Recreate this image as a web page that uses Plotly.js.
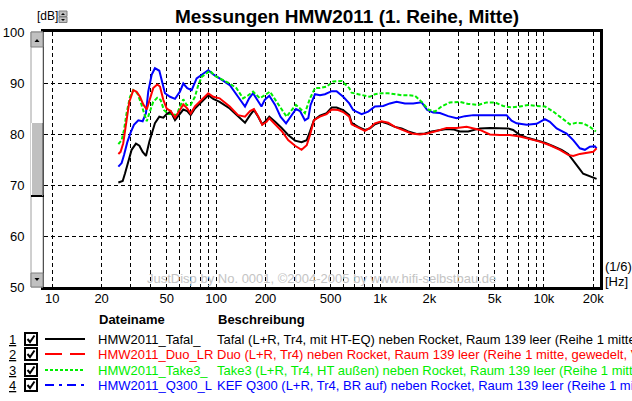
<!DOCTYPE html>
<html><head><meta charset="utf-8">
<script src="https://cdn.plot.ly/plotly-3.0.1.min.js"></script>
<style>html,body{margin:0;padding:0;background:#fff;}#plot{width:632px;height:401px;}</style>
</head><body><div id="plot"></div>
<script>
// ---- data (Hz, dB) ----
const tafalF = [25.3,26.9,27.8,29.1,30.5,32.4,34.0,35.6,37.3,39.1,40.4,42.3,45.0,47.6,49.9,52.8,56.1,60.1,63.0,66.6,69.9,74.2,79.6,85.4,89.5,96.0,
 105,121,136,150,161,170,178,191,203,211,229,251,275,303,332,357,374,395,430,472,507,543,596,649,
 671,736,809,868,931,1023,1122,1233,1354,1486,1672,1879,2065,2320,2549,2797,3073,3452,
 4069,4684,5388,6055,6496,7140,8023,9027,10140,11400,12820,14070,15100,16190,17370,18640,19820,20970];
const tafalDb = [70.5,70.8,72.3,74.6,76.9,78.1,77.7,76.5,75.7,78.5,80.1,82.1,83.4,83.2,83.9,84.4,82.7,83.9,84.8,84.5,83.7,85.0,86.0,87.1,87.6,86.9,
 86.3,85.0,83.4,82.2,83.7,84.7,83.7,81.9,82.7,83.4,82.4,81.2,79.8,78.7,78.4,78.8,80.5,82.7,83.6,84.1,85.2,85.2,84.7,83.7,
 82.2,81.4,80.8,81.1,81.9,82.4,82.0,81.4,81.1,80.5,80.0,80.1,80.5,80.8,81.0,80.9,80.5,80.5,
 81.1,81.2,81.2,81.1,80.8,79.8,79.2,78.8,78.3,77.6,76.9,76.1,74.9,73.5,72.2,71.8,71.6,71.2];

const duoF = [25.3,26.1,27.1,28.2,29.5,31.2,32.7,34.3,35.9,37.7,39.4,41.3,43.7,45.4,47.6,49.9,52.8,56.1,60.1,63.0,66.6,69.9,74.2,79.6,85.4,89.5,96.0,
 105,121,136,150,161,170,181,191,203,211,229,251,275,303,332,357,374,395,430,472,507,556,596,649,
 671,736,809,868,931,1023,1122,1233,1385,1559,1752,1941,2215,2549,2934,3376,
 4069,4684,5388,6201,7140,8217,9454,10880,12520,14070,15100,16580,18640,19990,20970];
const duoDb = [76.1,76.5,78.2,82.4,86.3,88.6,88.3,87.3,85.8,84.8,87.0,89.0,89.7,89.3,86.7,85.0,84.5,83.2,84.7,85.8,85.0,84.0,85.4,86.3,87.3,88.0,87.3,
 87.0,85.4,83.7,83.4,84.5,84.9,83.4,81.8,82.4,83.1,81.9,80.6,78.8,77.7,76.9,77.8,79.8,82.7,83.4,83.9,84.8,84.7,84.3,83.4,
 81.9,81.3,80.6,81.2,82.1,82.5,82.2,81.4,80.8,80.1,79.9,80.1,80.6,81.2,81.2,81.4,
 80.8,79.9,79.8,79.8,79.5,79.0,78.5,77.8,76.9,75.9,75.7,76.1,76.3,76.5,77.2];

const take3F = [25.3,26.5,27.4,28.4,29.8,31.2,33.0,34.6,36.3,37.7,39.4,41.3,43.7,45.8,48.0,51.0,54.3,57.4,60.1,63.0,66.1,69.9,74.2,77.8,81.6,86.7,91.7,98.3,
 105,121,133,146,157,168,185,198,213,234,251,269,289,307,325,348,374,401,430,472,518,583,649,
 671,736,809,868,931,1023,1122,1233,1354,1486,1633,1794,1969,2163,2376,2670,3073,3452,
 3973,4472,5023,5644,6351,7140,8023,9027,10140,11400,12820,14410,15830,17370,19080,20770];
const take3Db = [78.0,78.8,80.8,84.1,87.3,88.6,88.0,86.3,84.1,82.5,84.4,86.3,87.1,86.7,84.7,83.9,83.9,83.7,85.4,86.8,85.7,85.7,87.3,89.6,91.2,91.9,92.4,91.4,
 90.9,89.9,89.0,87.0,87.6,88.3,87.0,87.6,88.3,86.3,84.7,83.4,84.7,85.7,85.0,84.1,87.0,89.0,89.0,89.3,90.3,90.4,89.0,
 88.1,87.8,87.5,87.3,87.8,88.0,88.0,87.8,87.6,87.6,87.5,86.3,84.8,84.4,85.4,86.2,86.3,85.9,
 85.7,86.2,86.2,85.5,85.2,85.4,85.7,85.5,85.4,84.4,83.1,81.9,82.2,82.1,81.4,80.5];

const q300F = [25.3,26.5,27.4,28.7,30.1,31.5,33.5,35.6,37.3,38.5,40.4,42.3,45.0,46.5,48.7,52.3,56.1,60.1,63.0,66.6,70.9,76.0,81.6,86.7,89.5,96.0,
 105,121,136,150,159,168,178,189,198,211,229,247,267,289,307,325,348,365,377,401,430,461,507,543,596,649,
 686,772,847,931,1046,1149,1263,1419,1594,1794,1941,2112,2320,2607,2934,3296,3704,
 4472,5920,6351,6813,7844,9027,10140,10880,11960,13760,15100,16580,17790,19080,20470,20970];
const q300Db = [73.6,74.3,75.9,78.4,80.3,81.8,82.7,82.5,84.1,88.3,91.6,92.9,92.4,90.6,88.0,87.3,86.9,88.3,89.9,89.0,88.6,90.9,91.7,92.2,92.5,91.7,
 90.9,89.6,87.3,85.4,87.0,88.0,86.7,85.4,86.7,87.5,85.7,83.4,82.1,83.7,84.9,84.5,82.7,83.1,85.7,87.8,87.6,87.8,88.4,88.4,87.3,86.0,
 84.7,83.9,84.4,85.4,85.5,86.0,86.3,86.0,86.0,86.2,84.7,84.2,84.1,83.5,83.1,83.5,83.7,
 83.7,83.7,82.6,82.1,81.8,82.0,82.9,82.4,81.1,80.1,78.8,77.2,76.9,77.5,77.6,77.2];

const fileNames = ["HMW2011_Tafal_","HMW2011_Duo_LR","HMW2011_Take3_","HMW2011_Q300_L"];
const descriptions = [
 "Tafal (L+R, Tr4, mit HT-EQ) neben Rocket, Raum 139 leer (Reihe 1 mitte)",
 "Duo (L+R, Tr4) neben Rocket, Raum 139 leer (Reihe 1 mitte, gewedelt, V",
 "Take3 (L+R, Tr4, HT außen) neben Rocket, Raum 139 leer (Reihe 1 mitte)",
 "KEF Q300 (L+R, Tr4, BR auf) neben Rocket, Raum 139 leer (Reihe 1 mitte)"];
const seriesColors = ["#000000","#ff0000","#00ee00","#0000ff"];
const sampleDash = ["solid","17px,8px","3px,2px","9px,5px,3px,5px"];

const xTickVals = [10,20,30,40,50,60,70,80,90,100,200,300,400,500,600,700,800,900,1000,2000,3000,4000,5000,6000,7000,8000,9000,10000,20000];
const xTickText = ["10","20","","","50","","","","","100","200","","","500","","","","","1k","2k","","","5k","","","","","10k","20k"];
const yTickVals = [50,60,70,80,90,100];

// ---- layout helpers (page pixels -> paper) ----
const L=44, R=600, T=32, B=287;
const PX = x => (x-L)/(R-L);
const PY = y => (B-y)/(B-T);
const FONT = "Liberation Sans, Arial, sans-serif";

const traces = [
 {x:tafalF,y:tafalDb,line:{color:seriesColors[0],width:2}},
 {x:duoF,y:duoDb,line:{color:seriesColors[1],width:2}},
 {x:take3F,y:take3Db,line:{color:seriesColors[2],width:2,dash:"4px,2px"}},
 {x:q300F,y:q300Db,line:{color:seriesColors[3],width:2}}
].map(t=>Object.assign({type:"scatter",mode:"lines",hoverinfo:"skip",showlegend:false},t));
const ordered = [traces[3],traces[2],traces[0],traces[1]];

const shapes = [];
const ann = [];
function rect(x0,y0,x1,y1,fill,line,lw){shapes.push({type:"rect",xref:"paper",yref:"paper",x0:PX(x0),x1:PX(x1),y0:PY(y1),y1:PY(y0),fillcolor:fill,line:{color:line||"rgba(0,0,0,0)",width:lw||0},layer:"above"});}
function seg(x0,y0,x1,y1,color,w,dash){shapes.push({type:"line",xref:"paper",yref:"paper",x0:PX(x0),x1:PX(x1),y0:PY(y0),y1:PY(y1),line:{color:color,width:w,dash:dash||"solid"},layer:"above"});}
function path(d,fill){shapes.push({type:"path",xref:"paper",yref:"paper",path:d,fillcolor:fill,line:{color:fill,width:0},layer:"above"});}
function P(x,y){return PX(x)+","+PY(y);}
function text(x,y,s,opts){ann.push(Object.assign({xref:"paper",yref:"paper",x:PX(x),y:PY(y),text:s,showarrow:false,xanchor:"left",yanchor:"middle",font:{family:FONT,size:12,color:"#000"}},opts||{}));}

// scrollbar
rect(31,32,43,287,"#ffffff","#a0a0a0",1);
rect(31,32,43,47,"#c0c0c0","#808080",1);
path("M"+P(34.5,42)+" L"+P(39.5,42)+" L"+P(37,39)+" Z","#000");
rect(31,273,43,287,"#c0c0c0","#808080",1);
path("M"+P(34.5,278)+" L"+P(39.5,278)+" L"+P(37,281)+" Z","#000");
rect(31,123,43,196,"#c0c0c0",null,0);
seg(31.5,123,31.5,196,"#ffffff",1);
seg(31,196,44,196,"#000000",2);
seg(42.5,123,42.5,196,"#808080",1);
// dB spinner
rect(59,11,67,16.5,"#c0c0c0","#808080",1);
rect(59,17,67,22.5,"#c0c0c0","#808080",1);
path("M"+P(61,15)+" L"+P(65,15)+" L"+P(63,13)+" Z","#000");
path("M"+P(61,19)+" L"+P(65,19)+" L"+P(63,21)+" Z","#000");

text(35,16,"[dB]",{font:{family:FONT,size:12,color:"#000"}});
text(603,266,"(1/6)",{font:{family:FONT,size:13,color:"#000"}});
text(603,281,"[Hz]",{font:{family:FONT,size:13,color:"#000"}});
text(321,278,"JustDisp by No. 0001, ©2004-2005 by www.hifi-selbstbau.de",{xanchor:"center",font:{family:FONT,size:13,color:"#c4c4c4"}});

// legend table
text(97,319,"<b>Dateiname</b>",{font:{family:FONT,size:13,color:"#000"}});
text(216,319,"<b>Beschreibung</b>",{font:{family:FONT,size:13,color:"#000"}});
const rowY=[339,354,370,385];
for(let i=0;i<4;i++){
  const y=rowY[i];
  text(7,y,"<u>"+(i+1)+"</u>",{font:{family:FONT,size:13,color:"#000"}});
  rect(25,y-6,37,y+6,"#ffffff","#000",2);
  shapes.push({type:"path",xref:"paper",yref:"paper",path:"M"+P(27.5,y)+" L"+P(30,y+3)+" L"+P(34.5,y-3.5),line:{color:"#000",width:2},layer:"above"});
  seg(45,y,85,y,seriesColors[i],2,sampleDash[i]);
  text(96,y,fileNames[i],{font:{family:FONT,size:13,color:seriesColors[i]}});
  text(215,y,descriptions[i],{font:{family:FONT,size:13,color:seriesColors[i]}});
}

const layout = {
  width:632,height:401,
  margin:{l:L,r:632-R,t:T,b:401-B,pad:0},
  paper_bgcolor:"#ffffff",plot_bgcolor:"#ffffff",
  title:{text:"<b>Messungen HMW2011 (1. Reihe, Mitte)</b>",font:{family:FONT,size:19,color:"#000"},xref:"paper",x:PX(347),xanchor:"center",yref:"container",y:1-16/401,yanchor:"middle"},
  xaxis:{type:"log",range:[Math.log10(8.9),Math.log10(22000)],tickvals:xTickVals,ticktext:xTickText,
    showgrid:true,gridcolor:"#000",gridwidth:1,griddash:"4px,3px",zeroline:false,
    showline:true,linecolor:"#000",linewidth:3,mirror:true,ticks:"",ticklabelstandoff:-3,
    tickfont:{family:FONT,size:13,color:"#000"},fixedrange:true},
  yaxis:{range:[50,100],tickvals:yTickVals,showgrid:true,gridcolor:"#000",gridwidth:1,griddash:"4px,3px",zeroline:false,
    showline:true,linecolor:"#000",linewidth:3,mirror:true,ticks:"",ticklabelstandoff:14,
    tickfont:{family:FONT,size:13,color:"#000"},fixedrange:true},
  shapes:shapes,annotations:ann,showlegend:false
};
Plotly.newPlot("plot",ordered,layout,{displayModeBar:false,staticPlot:true});
</script></body></html>
